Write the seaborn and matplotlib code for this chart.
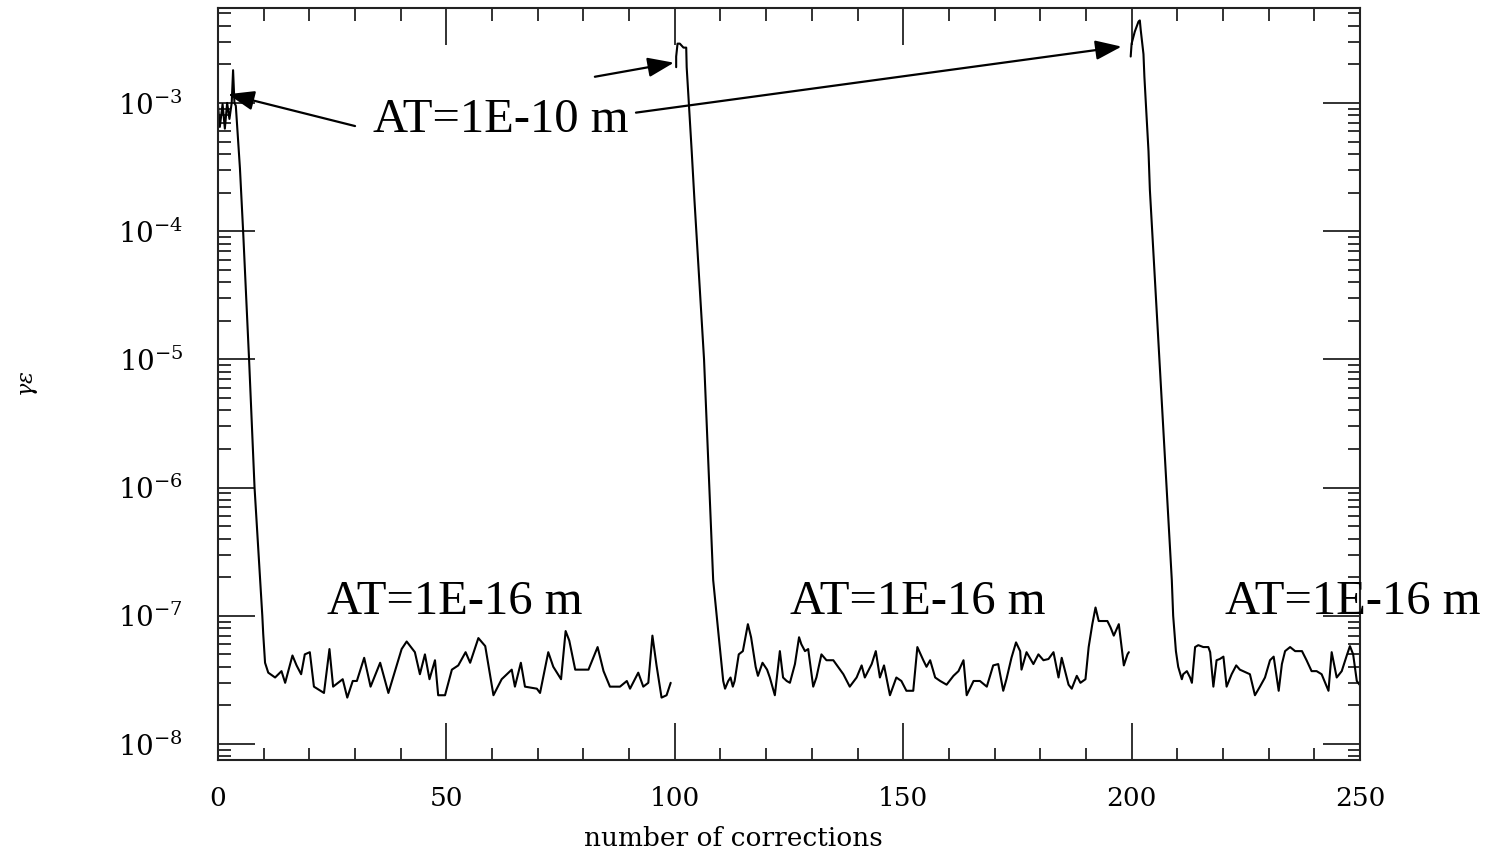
import numpy as np
import matplotlib
matplotlib.use("Agg")
import matplotlib.pyplot as plt
import seaborn as sns
from matplotlib.ticker import LogLocator, MultipleLocator, NullFormatter

# ---------------- data ----------------
x1 = [0.0, 0.4, 1.0, 1.5, 2.0, 2.5, 3.0, 3.3, 3.6, 3.9, 4.8, 5.5, 6.8, 8.0, 9.7, 9.9, 10.3,
      11.0, 12.5, 13.9, 14.7, 16.3, 17.2, 18.2, 19.0, 20.1, 21.0, 23.2, 24.4, 25.2, 27.3,
      28.3, 29.5, 30.4, 32.0, 33.4, 35.5, 37.3, 40.2, 41.3, 43.1, 44.2, 45.3, 46.3, 47.5,
      48.2, 49.7, 51.2, 52.6, 54.2, 55.2, 57.0, 58.5, 60.3, 62.1, 64.3, 65.0, 66.3, 67.2,
      69.8, 70.5, 72.3, 73.4, 75.1, 76.1, 76.9, 78.2, 81.1, 83.1, 84.4, 85.8, 88.0, 89.5,
      90.2, 92.0, 93.1, 94.2, 95.1, 96.0, 97.1, 98.2, 99.1]
y1 = [9.5e-4, 6.5e-4, 9.8e-4, 6.3e-4, 1.0e-3, 7.5e-4, 1.0e-3, 1.8e-3, 1.0e-3, 9.5e-4, 3.1e-4,
      1.0e-4, 1.0e-5, 1.0e-6, 1.0e-7, 7.2e-8, 4.3e-8,
      3.6e-8, 3.3e-8, 3.7e-8, 3.0e-8, 4.9e-8, 4.1e-8, 3.5e-8, 5.0e-8, 5.2e-8, 2.8e-8,
      2.5e-8, 5.5e-8, 2.8e-8, 3.2e-8, 2.3e-8, 3.1e-8, 3.1e-8, 4.7e-8, 2.8e-8, 4.3e-8,
      2.5e-8, 5.5e-8, 6.3e-8, 5.2e-8, 3.5e-8, 5.0e-8, 3.2e-8, 4.5e-8, 2.4e-8, 2.4e-8,
      3.8e-8, 4.1e-8, 5.2e-8, 4.3e-8, 6.7e-8, 5.8e-8, 2.4e-8, 3.2e-8, 3.8e-8, 2.8e-8,
      4.3e-8, 2.8e-8, 2.7e-8, 2.5e-8, 5.2e-8, 4.0e-8, 3.2e-8, 7.6e-8, 6.4e-8, 3.8e-8,
      3.8e-8, 5.7e-8, 3.7e-8, 2.8e-8, 2.8e-8, 3.1e-8, 2.7e-8, 3.6e-8, 2.8e-8, 3.0e-8,
      7.0e-8, 4.1e-8, 2.3e-8, 2.4e-8, 3.0e-8]

x2 = [100.3, 100.3, 100.6, 101.1, 101.9, 102.5, 102.6, 103.0, 103.7, 104.3, 106.4, 108.4,
      109.6, 110.6, 111.0, 111.7, 112.2, 112.7, 113.1, 114.0, 114.9, 116.0, 116.7, 117.7,
      118.2, 119.2, 120.2, 120.8, 121.9, 123.0, 123.7, 124.5, 125.2, 126.3, 127.2, 127.7,
      128.5, 129.2, 130.3, 131.0, 132.1, 133.2, 134.7, 136.9, 138.3, 139.8, 140.9, 141.6,
      143.1, 144.0, 144.9, 145.8, 147.1, 148.5, 149.6, 150.7, 152.2, 153.1, 154.4, 155.1,
      155.9, 157.0, 158.1, 159.5, 161.0, 162.1, 163.2, 163.9, 165.4, 166.8, 168.3, 169.7,
      170.8, 171.9, 172.6, 173.7, 174.7, 175.6, 175.9, 177.0, 178.5, 179.6, 180.7, 181.8,
      182.9, 184.0, 184.7, 186.2, 186.9, 188.0, 188.8, 189.9, 190.6, 191.4, 192.1, 192.8,
      194.7, 195.4, 196.1, 197.2, 198.3, 199.1, 199.4]
y2 = [1.9e-3, 2.3e-3, 2.9e-3, 2.9e-3, 2.7e-3, 2.7e-3, 1.9e-3, 1.1e-3, 4.2e-4, 1.75e-4,
      1.0e-5, 1.9e-7, 7.0e-8, 3.1e-8, 2.7e-8, 3.1e-8, 3.3e-8, 2.8e-8, 3.1e-8, 5.0e-8,
      5.3e-8, 8.6e-8, 6.8e-8, 4.0e-8, 3.4e-8, 4.3e-8, 3.8e-8, 3.3e-8, 2.4e-8, 5.3e-8,
      3.3e-8, 3.1e-8, 3.0e-8, 4.2e-8, 6.8e-8, 6.0e-8, 5.3e-8, 5.5e-8, 2.8e-8, 3.3e-8,
      5.0e-8, 4.5e-8, 4.5e-8, 3.5e-8, 2.8e-8, 3.3e-8, 4.1e-8, 3.3e-8, 4.2e-8, 5.3e-8,
      3.3e-8, 4.1e-8, 2.4e-8, 3.3e-8, 3.1e-8, 2.6e-8, 2.6e-8, 5.7e-8, 4.5e-8, 4.0e-8,
      4.5e-8, 3.3e-8, 3.1e-8, 2.9e-8, 3.4e-8, 3.7e-8, 4.5e-8, 2.4e-8, 3.1e-8, 3.1e-8,
      2.8e-8, 4.1e-8, 4.2e-8, 2.6e-8, 3.2e-8, 4.7e-8, 6.2e-8, 5.3e-8, 3.8e-8, 5.2e-8,
      4.2e-8, 5.0e-8, 4.5e-8, 4.6e-8, 5.2e-8, 3.3e-8, 4.7e-8, 2.9e-8, 2.7e-8, 3.4e-8,
      3.0e-8, 3.2e-8, 5.7e-8, 8.6e-8, 1.16e-7, 9.1e-8, 9.1e-8, 8.1e-8, 7.0e-8, 8.6e-8,
      4.1e-8, 5.0e-8, 5.2e-8]

x3 = [199.8, 200.0, 200.7, 201.5, 201.8, 202.0, 202.6, 202.8, 203.2, 203.7, 204.0, 208.8,
      209.1, 209.7, 210.2, 211.0, 211.3, 212.1, 212.8, 213.2, 213.9, 214.6, 215.7, 216.8,
      217.2, 217.9, 218.6, 219.3, 220.1, 220.8, 221.9, 222.9, 223.7, 225.9, 227.0, 228.1,
      229.2, 230.3, 231.1, 232.2, 232.9, 233.6, 234.7, 235.8, 237.3, 238.3, 239.4, 240.5,
      241.6, 243.1, 243.8, 244.9, 246.0, 247.1, 247.8, 248.5, 249.3, 249.9]
y3 = [2.3e-3, 2.9e-3, 3.6e-3, 4.3e-3, 4.4e-3, 3.7e-3, 2.4e-3, 1.6e-3, 8.8e-4, 4.2e-4,
      2.1e-4, 1.9e-7, 1.0e-7, 5.3e-8, 4.0e-8, 3.2e-8, 3.5e-8, 3.7e-8, 3.3e-8, 3.0e-8,
      5.7e-8, 5.9e-8, 5.7e-8, 5.7e-8, 5.2e-8, 2.8e-8, 4.5e-8, 4.6e-8, 4.8e-8, 2.8e-8,
      3.5e-8, 4.1e-8, 3.8e-8, 3.5e-8, 2.4e-8, 2.8e-8, 3.3e-8, 4.5e-8, 4.8e-8, 2.6e-8,
      4.2e-8, 5.3e-8, 5.7e-8, 5.3e-8, 5.3e-8, 4.5e-8, 3.7e-8, 3.7e-8, 3.5e-8, 2.6e-8,
      5.2e-8, 3.3e-8, 3.7e-8, 4.9e-8, 5.8e-8, 5.0e-8, 3.1e-8, 2.9e-8]

label_big = "AT=1E-10 m"
label_small = "AT=1E-16 m"
small_label_x = [23.9, 125.2, 220.4]
xlabel = "number of corrections"
ylabel = r"$\gamma\epsilon$"

# ---------------- styling ----------------
sns.set_theme(style="ticks")
plt.rcParams["font.family"] = ["DejaVu Serif"]
plt.rcParams["mathtext.fontset"] = "dejavuserif"
plt.rcParams["text.color"] = "black"
plt.rcParams["axes.labelcolor"] = "black"
plt.rcParams["xtick.color"] = "black"
plt.rcParams["ytick.color"] = "black"
plt.rcParams["axes.edgecolor"] = "black"

fig = plt.figure(figsize=(14.88, 8.55), dpi=100)
ax = fig.add_axes([218 / 1488, 95 / 855, 1142 / 1488, 752 / 855])
ax.set_yscale("log")

for xs, ys in [(x1, y1), (x2, y2), (x3, y3)]:
    sns.lineplot(x=np.array(xs), y=np.array(ys), ax=ax, color="black",
                 linewidth=1.5, estimator=None, sort=False)

ax.set_xlim(0, 250)
ax.set_ylim(7.5e-9, 5.5e-3)

ax.xaxis.set_major_locator(MultipleLocator(50))
ax.xaxis.set_minor_locator(MultipleLocator(10))
ax.yaxis.set_major_locator(LogLocator(base=10, numticks=20))
ax.yaxis.set_minor_locator(LogLocator(base=10, subs=np.arange(2, 10), numticks=20))
ax.yaxis.set_minor_formatter(NullFormatter())

ax.tick_params(which="both", direction="in", top=True, right=True,
               color="#222222", labelcolor="black", width=1.3)
ax.tick_params(which="major", length=26.5)
ax.tick_params(which="minor", length=9)
ax.tick_params(axis="x", which="major", labelsize=19, pad=19)
ax.tick_params(axis="y", which="major", labelsize=20, pad=25)
for s in ax.spines.values():
    s.set_linewidth(1.5)
    s.set_color("#222222")

ax.set_xlabel(xlabel, fontsize=19, color="black")
ax.xaxis.set_label_coords(0.451, -0.088)
ax.set_ylabel(ylabel, fontsize=16, color="black")
ax.yaxis.set_label_coords(-0.156, 0.5)

# ---------------- annotations ----------------
serif = ["Liberation Serif", "DejaVu Serif"]
ax.text(33.9, 5.9e-4, label_big, fontsize=35, family=serif, va="baseline", ha="left",
        color="black")
for xx in small_label_x:
    ax.text(xx, 1.04e-7, label_small, fontsize=35, family=serif,
            va="baseline", ha="left", clip_on=False, color="black")

arrow_kw = dict(arrowstyle="-|>,head_length=0.8,head_width=0.3", mutation_scale=20,
                color="black", lw=1.6, shrinkA=0, shrinkB=0)
ax.annotate("", xy=(2.2, 1.17e-3), xytext=(30.0, 6.6e-4), arrowprops=arrow_kw)
ax.annotate("", xy=(99.8, 2.06e-3), xytext=(82.5, 1.6e-3), arrowprops=arrow_kw)
ax.annotate("", xy=(197.8, 2.75e-3), xytext=(91.5, 8.4e-4), arrowprops=arrow_kw)

fig.savefig("out.png", dpi=100)
